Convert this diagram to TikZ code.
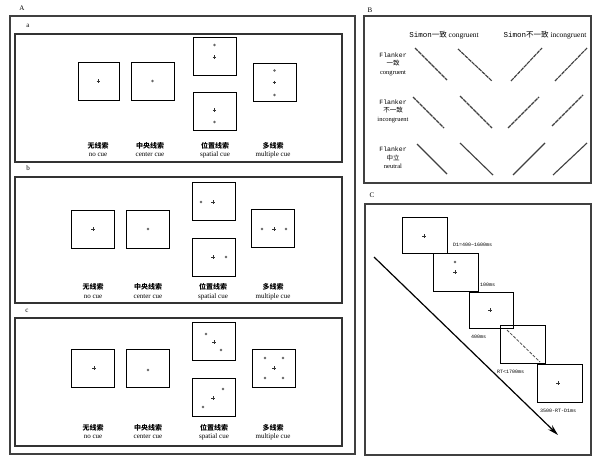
\documentclass[tikz,border=0pt]{standalone}
\usepackage{fontspec}
\setmainfont{Liberation Serif}
\newfontfamily\cjk{Noto Sans CJK SC}
\newfontfamily\mymono{Liberation Mono}
\usetikzlibrary{arrows.meta}
\newcommand{\myfix}[2]{\draw[line width=0.8pt,black!80] (#1,#2) +(-1.8,0) -- +(1.8,0) +(0,-1.8) -- +(0,1.8);}
\newcommand{\mycue}[2]{\fill[black!60] (#1,#2) circle (1.3pt);}
\begin{document}
\begin{tikzpicture}[x=1pt,y=-1pt,
  sq/.style={draw, line width=1pt, inner sep=0pt, outer sep=0pt, minimum width=43pt, minimum height=38pt},
  panel/.style={draw=black!75, line width=1.3pt},
  subpanel/.style={draw=black!80, line width=1.1pt},
  plab/.style={font=\fontsize{7}{7}\selectfont, inner sep=0pt},
  zh/.style={font=\fontsize{7}{7}\cjk\bfseries, inner sep=0pt},
  en/.style={font=\fontsize{7}{7}\selectfont, inner sep=0pt},
  blab/.style={font=\fontsize{6.5}{8.5}\selectfont, inner sep=0pt, align=center},
  hlab/.style={font=\fontsize{7.5}{8}\selectfont, inner sep=0pt},
  flk/.style={line width=1.1pt, black!75, dash pattern=on 4pt off 0.7pt},
  flkn/.style={line width=1.1pt, black!75},
  clab/.style={font=\fontsize{5}{6}\mymono, inner sep=0pt, anchor=west}]
\useasboundingbox (0,0) rectangle (594,456);
\fill[white] (0,0) rectangle (594,456);

% ---------- Panel A ----------
\node[plab] (labA) at (22,8) {A};
\draw[panel] (10,16) rectangle (355,454);

% sub-panel a
\node[plab] (laba) at (28,26) {a};
\draw[subpanel] (15,34) rectangle (342,162);
\node[sq, minimum width=41pt] (a1) at (98.5,81) {};
\node[sq] (a2) at (152.5,81) {};
\node[sq] (a3) at (214.5,56) {};
\node[sq] (a4) at (214.5,111.5) {};
\node[sq] (a5) at (274.5,82.5) {};
\myfix{98.5}{81}
\mycue{152.5}{81}
\mycue{214.5}{45} \myfix{214.5}{57}
\myfix{214.5}{110} \mycue{214.5}{122}
\mycue{274.5}{70.5} \myfix{274.5}{82.5} \mycue{274.5}{95}
\node[zh] (a1z) at (98,146) {无线索};
\node[en] (a1e) at (98,155) {no cue};
\node[zh] (a2z) at (150,146) {中央线索};
\node[en] (a2e) at (150,155) {center cue};
\node[zh] (a3z) at (215,146) {位置线索};
\node[en] (a3e) at (215,155) {spatial cue};
\node[zh] (a5z) at (273,146) {多线索};
\node[en] (a5e) at (273,155) {multiple cue};

% sub-panel b
\node[plab] (labb) at (28,168) {b};
\draw[subpanel] (15,177) rectangle (342,303);
\node[sq] (b1) at (93,229) {};
\node[sq] (b2) at (148,229) {};
\node[sq] (b3) at (213.5,201) {};
\node[sq] (b4) at (213.5,257) {};
\node[sq] (b5) at (273,228) {};
\myfix{93}{229}
\mycue{148}{229}
\mycue{201}{202} \myfix{213}{202}
\myfix{213}{257} \mycue{226}{257}
\mycue{262}{229} \myfix{274}{229} \mycue{286}{229}
\node[zh] (b1z) at (93,287) {无线索};
\node[en] (b1e) at (93,297) {no cue};
\node[zh] (b2z) at (148,287) {中央线索};
\node[en] (b2e) at (148,297) {center cue};
\node[zh] (b3z) at (213,287) {位置线索};
\node[en] (b3e) at (213,297) {spatial cue};
\node[zh] (b5z) at (273,287) {多线索};
\node[en] (b5e) at (273,297) {multiple cue};

% sub-panel c
\node[plab] (labc) at (27,311) {c};
\draw[subpanel] (15,318) rectangle (342,446);
\node[sq] (c1) at (93,368) {};
\node[sq] (c2) at (148,368) {};
\node[sq] (c3) at (214,341) {};
\node[sq] (c4) at (214,397) {};
\node[sq] (c5) at (273.5,368) {};
\myfix{94}{368}
\mycue{148}{370}
\mycue{206}{334} \myfix{214}{342} \mycue{221}{350}
\mycue{223}{389} \myfix{213}{398} \mycue{203}{407}
\mycue{265}{358} \mycue{283}{358} \myfix{274}{368} \mycue{265}{378} \mycue{283}{378}
\node[zh] (c1z) at (93,428) {无线索};
\node[en] (c1e) at (93,437) {no cue};
\node[zh] (c2z) at (148,428) {中央线索};
\node[en] (c2e) at (148,437) {center cue};
\node[zh] (c3z) at (214,428) {位置线索};
\node[en] (c3e) at (214,437) {spatial cue};
\node[zh] (c5z) at (273,428) {多线索};
\node[en] (c5e) at (273,437) {multiple cue};

% ---------- Panel B ----------
\node[plab] (labB) at (370,10) {B};
\draw[panel] (364,16) rectangle (591,183);
\node[hlab] (hB1) at (444,35) {{\mymono Simon}{\cjk 一致} congruent};
\node[hlab] (hB2) at (545,35) {{\mymono Simon}{\cjk 不一致} incongruent};
\node[blab] (r1) at (393,64) {{\mymono Flanker}\\{\cjk 一致}\\congruent};
\node[blab] (r2) at (393,111) {{\mymono Flanker}\\{\cjk 不一致}\\incongruent};
\node[blab] (r3) at (393,158) {{\mymono Flanker}\\{\cjk 中立}\\neutral};
% row 1
\draw[flk] (415,48) -- (447,80);
\draw[flk] (458,49) -- (492,81);
\draw[flk] (511,81) -- (542,48);
\draw[flk] (555,81) -- (587,48);
% row 2
\draw[flk] (413,97) -- (444,128);
\draw[flk] (460,96) -- (492,128);
\draw[flk] (508,128) -- (539,97);
\draw[flk] (552,126) -- (583,95);
% row 3
\draw[flkn] (417,144) -- (447,174);
\draw[flkn] (460,143) -- (493,175);
\draw[flkn] (513,175) -- (545,143);
\draw[flkn] (553,175) -- (587,143);

% ---------- Panel C ----------
\node[plab] (labC) at (372,195) {C};
\draw[panel] (365,204) rectangle (591,455);
\coordinate (ts) at (374,257);
\coordinate (te) at (558,435);
\draw[line width=1.2pt, -{Stealth[length=11pt,width=6pt]}] (ts) -- (te);
\node[sq, minimum width=45pt, minimum height=36pt] (s1) at (424.5,235) {};
\node[sq, minimum width=45pt, minimum height=38pt] (s2) at (455.5,272) {};
\node[sq, minimum width=44pt, minimum height=36pt] (s3) at (491,310) {};
\node[sq, minimum width=45pt, minimum height=38pt] (s4) at (522.5,344) {};
\node[sq, minimum width=45pt, minimum height=38pt, fill=white] (s5) at (559.5,383) {};
\myfix{424}{236}
\mycue{455}{262} \myfix{455}{272}
\myfix{490}{310}
\draw[line width=0.8pt, black!70, dash pattern=on 3pt off 1.5pt] ([shift={(7,5)}]s4.north west) -- ([shift={(-5,-1)}]s4.south east);
\myfix{558}{383}
\node[clab] (t1) at (453,245) {D1=400\textasciitilde 1600ms};
\node[clab] (t2) at (480,285) {100ms};
\node[clab] (t3) at (471,337) {400ms};
\node[clab] (t4) at (497,372) {RT<1700ms};
\node[clab] (t5) at (540,411) {3500-RT-D1ms};
\end{tikzpicture}
\end{document}
